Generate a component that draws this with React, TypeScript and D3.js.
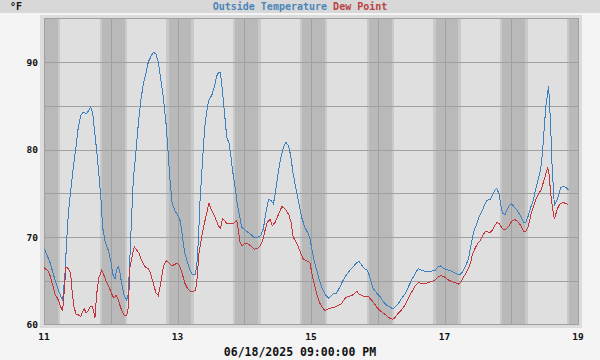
import React from "react";
import * as d3 from "d3";

// hours since 06/11 00:00, value °F
const tempPoints: [number, number][] = [
  [0,68.6],[0.36,68.5],[2.16,67.1],[3.95,65.1],[5.15,63.9],[6.35,63.0],[6.71,62.8],[7.55,65.8],[8.15,69.6],[8.75,72.7],[9.59,75.3],[10.55,78],[11.5,80.3],[12.3,82.5],[13.2,83.9],[14.1,84.3],[15.3,84.1],[15.9,84.4],[16.8,84.9],[17.5,84.2],[18.3,81.8],[19.2,79.1],[19.9,76.5],[20.5,74.2],[21.1,71.1],[21.9,69.6],[23.1,68.5],[24.0,67.3],[24.7,65.8],[25.5,65.2],[26.1,66.2],[26.7,66.6],[27.3,66.0],[27.9,64.7],[28.8,63.3],[29.7,62.8],[30.3,63.5],[30.9,67.7],[31.5,72.3],[32.1,76.5],[33.1,79.9],[33.9,82.9],[34.8,85.6],[35.7,87.5],[36.7,88.8],[37.5,90.0],[38.5,90.7],[39.3,91.1],[40.2,91.0],[41.1,90.0],[41.9,88.3],[42.9,86.0],[43.9,82.9],[44.5,80.3],[45.3,76.5],[46.1,73.8],[47.1,73.0],[48.06,72.5],[48.9,71.9],[49.5,70.8],[50.1,69.2],[50.7,68.1],[51.65,67.0],[52.5,66.2],[53.3,65.7],[54.3,65.7],[54.9,66.6],[55.5,69.6],[56.1,74.2],[56.7,77.2],[57.3,80.3],[57.9,82.9],[58.7,84.8],[59.4,85.8],[60.3,86.2],[61.2,87.1],[62.1,88.4],[62.7,88.8],[63.4,88.8],[63.9,87.5],[64.5,85.6],[65.1,83.5],[65.7,81.4],[66.5,80.8],[67.1,79.5],[67.8,77.6],[68.7,75.7],[69.5,73.8],[70.5,72.1],[71.1,71.1],[72.3,70.8],[73.5,70.5],[74.7,70.2],[75.6,69.9],[76.8,70.0],[78.0,70.2],[78.9,71.0],[79.7,72.7],[80.7,74.3],[81.6,74.2],[82.5,73.8],[83.3,75.3],[84.3,77.6],[85.2,79.1],[86.1,80.3],[87.0,80.8],[87.9,80.5],[88.7,79.3],[89.6,77.2],[90.5,75.7],[91.4,74.2],[92.6,72.3],[93.8,71.1],[95.0,70.4],[95.65,69.8],[96.25,68.7],[97.1,67.3],[98.05,66.2],[99.0,65.1],[99.8,64.3],[101.0,63.5],[102.2,63.0],[103.1,63.2],[104.0,63.5],[105.2,63.6],[106.4,64.3],[107.6,65.1],[108.8,65.7],[110.0,66.2],[111.2,66.6],[112.2,67.0],[113.3,67.2],[114.2,66.8],[115.2,66.4],[116.3,66.2],[117.0,65.6],[117.6,64.9],[118.4,64.1],[119.6,63.6],[120.8,63.2],[122.0,62.6],[123.2,62.2],[124.4,62.0],[125.4,61.8],[126.2,62.0],[127.4,62.4],[128.6,63.0],[129.8,63.5],[131.0,64.3],[132.2,65.1],[133.4,65.8],[134.6,66.4],[135.8,66.2],[137.0,66.1],[138.2,66.1],[139.4,66.1],[140.6,66.2],[141.8,66.6],[142.6,66.7],[143.6,66.4],[144.8,66.3],[145.7,66.2],[146.6,66.1],[147.8,65.9],[149.0,65.7],[150.0,65.8],[150.8,66.2],[151.6,66.7],[152.6,67.5],[153.4,68.9],[154.1,70.0],[154.7,70.8],[155.6,71.5],[156.4,72.3],[157.4,72.9],[158.3,73.6],[159.2,74.2],[160.4,74.3],[161.2,74.8],[162.2,75.4],[162.8,75.6],[163.6,74.9],[164.3,73.6],[164.9,72.7],[165.8,72.6],[166.5,73.1],[167.2,73.6],[168.2,73.8],[169.1,73.4],[170.0,73.1],[170.8,72.7],[171.8,72.1],[172.6,71.6],[173.3,71.7],[174.2,72.5],[175.0,73.4],[176.0,74.3],[176.8,75.5],[177.8,76.8],[178.6,77.8],[179.2,79.5],[179.8,82.2],[180.4,84.8],[181.0,86.3],[181.4,87.3],[181.7,85.8],[182.2,82.5],[182.7,78.0],[183.2,75.3],[183.5,73.6],[184.1,74.0],[184.7,74.4],[185.3,75.1],[185.9,75.7],[186.7,75.8],[187.6,75.7],[188.5,75.4]
];

const dewPoints: [number, number][] = [
  [0,66.5],[0.36,66.4],[1.56,66.1],[2.16,65.6],[3.12,64.5],[3.96,63.5],[5.15,62.8],[5.99,62.0],[6.71,61.6],[7.19,63.5],[7.91,66.6],[8.75,66.4],[9.59,65.8],[10.19,63.5],[10.79,62.0],[11.5,61.2],[12.35,61.1],[13.18,60.9],[13.78,61.4],[14.5,61.8],[15.1,61.3],[15.7,61.5],[16.54,62.0],[17.38,62.1],[17.98,61.3],[18.34,60.8],[18.94,63.5],[19.78,65.4],[20.73,66.2],[21.33,65.8],[22.17,65.1],[23.37,64.3],[24.33,63.5],[25.17,63.0],[25.89,63.3],[26.49,63.1],[27.09,62.4],[27.93,61.6],[28.76,61.1],[29.72,61.0],[30.32,62.0],[30.92,66.6],[31.88,68.1],[32.48,68.9],[33.32,68.5],[34.28,68.1],[35.11,67.3],[36.31,66.6],[37.5,66.4],[38.35,65.8],[39.31,64.7],[40.27,63.6],[41.11,63.3],[41.95,64.7],[42.9,66.6],[43.86,67.3],[44.7,67.1],[45.9,66.7],[47.1,66.9],[48.06,67.0],[48.9,66.6],[49.7,65.8],[50.7,64.7],[51.65,64.1],[52.5,63.8],[53.7,63.8],[54.5,63.9],[55.0,65.1],[55.7,68.1],[56.7,70.0],[57.6,71.5],[58.5,72.7],[59.3,73.9],[60.0,73.2],[60.9,72.7],[61.7,72.1],[62.7,71.3],[63.5,71.0],[64.2,72.1],[64.8,71.9],[65.7,71.6],[66.9,71.6],[68.1,71.5],[69.3,71.9],[69.9,70.8],[70.5,69.4],[71.1,69.0],[72.3,69.3],[73.5,69.2],[74.7,68.9],[75.6,68.6],[76.8,68.7],[77.8,69.0],[78.6,69.6],[79.5,70.8],[80.3,71.7],[81.3,72.0],[82.1,71.3],[83.1,71.7],[83.9,72.3],[84.9,73.0],[85.5,73.5],[86.4,73.3],[87.2,73.0],[88.1,72.5],[88.8,71.7],[89.6,70.0],[90.5,69.5],[91.4,68.9],[92.4,68.1],[93.2,67.5],[94.4,67.3],[95.4,67.1],[95.65,67.0],[96.6,65.4],[97.45,64.3],[98.3,63.2],[99.25,62.4],[100.2,61.9],[101.0,61.6],[102.2,61.8],[103.4,61.9],[104.6,62.0],[105.8,62.2],[107.0,62.4],[108.2,63.0],[109.4,63.2],[110.6,63.3],[111.6,63.5],[112.4,63.8],[113.3,63.5],[114.2,63.3],[115.4,63.2],[116.6,63.2],[117.8,62.8],[118.8,62.4],[119.6,62.0],[120.8,61.6],[122.0,61.3],[123.2,61.0],[124.4,60.7],[125.4,60.6],[126.2,60.8],[127.4,61.3],[128.6,61.7],[129.8,62.2],[131.0,63.0],[132.2,63.7],[133.4,64.4],[134.6,64.8],[135.8,64.7],[137.0,64.7],[138.2,64.8],[139.4,64.9],[140.6,65.1],[141.8,65.5],[142.8,65.6],[144.2,65.4],[145.4,65.1],[146.6,64.9],[147.8,64.8],[149.0,64.6],[150.0,64.9],[150.8,65.4],[151.6,65.8],[152.6,66.4],[153.4,67.1],[154.1,68.1],[155.0,68.7],[155.8,69.2],[156.8,69.6],[157.6,70.1],[158.6,70.6],[159.5,70.6],[160.4,70.5],[161.2,70.8],[162.2,71.4],[163.0,71.7],[163.7,71.5],[164.6,71.1],[165.4,70.8],[166.4,71.0],[167.2,71.3],[168.2,71.8],[169.1,72.0],[170.0,71.9],[170.8,71.6],[171.8,71.1],[172.5,70.6],[173.3,70.7],[174.2,71.3],[175.0,72.5],[176.0,73.5],[176.8,74.3],[177.8,74.9],[178.7,75.4],[179.6,76.3],[180.4,77.2],[181.1,77.9],[181.6,77.2],[182.2,74.9],[182.8,73.4],[183.5,72.1],[184.1,72.7],[184.7,73.3],[185.5,73.8],[186.4,73.9],[187.1,73.9],[187.9,73.8],[188.5,73.7]
];

const dayLabels = [11, 12, 13, 14, 15, 16, 17, 18, 19];
const xTickDays = [11, 13, 15, 17, 19];
const yTicks = [60, 70, 80, 90];
const yGrid = [65, 70, 75, 80, 85, 90];
// hours within each day (may exceed 24 into next day)
const duskStart = 20.0;
const nightStart = 20.8;
const nightEnd = 29.0;
const dawnEnd = 29.9;

const title1 = "Outside Temperature";
const title2 = "Dew Point";
const unitLabel = "°F";
const dateLabel = "06/18/2025 09:00:00 PM";

export default function App() {
  const W = 600, H = 360;
  const L = 44, R = 578, T = 18.5, B = 324.5;
  const x = d3.scaleLinear().domain([0, 192]).range([L, R]);
  const y = d3.scaleLinear().domain([60, 95]).range([B, T]);
  const line = d3.line<[number, number]>().x(d => x(d[0])).y(d => y(d[1]));
  const font = "'DejaVu Sans Mono', monospace";
  const bands: { x0: number; x1: number; fill: string }[] = [];
  for (let d = -1; d < 8; d++) {
    const b = d * 24;
    bands.push({ x0: b + duskStart, x1: b + nightStart, fill: "#c9c9c9" });
    bands.push({ x0: b + nightStart, x1: b + nightEnd, fill: "#b9b9b9" });
    bands.push({ x0: b + nightEnd, x1: b + dawnEnd, fill: "#c9c9c9" });
  }
  const cx = (h: number) => Math.max(L, Math.min(R, x(h)));
  return (
    <svg width={W} height={H} style={{ position: "fixed", left: 0, top: 0 }} fontFamily={font}>
      <rect x={0} y={0} width={W} height={H} fill="#f4f4f4" />
      <rect x={0} y={0} width={W} height={13} fill="#d8d8d8" />
      <text x={10} y={10} fontSize={10} fontWeight="bold" fill="#111">{unitLabel}</text>
      <text x={300} y={10} fontSize={10} fontWeight="bold" textAnchor="middle">
        <tspan fill="#4a86b8">{title1}</tspan>
        <tspan fill="#b84444"> {title2}</tspan>
      </text>
      <rect x={40} y={15} width={542} height={313} fill="#dcdcdc" />
      <defs>
        <clipPath id="plot"><rect x={L} y={T} width={R - L} height={B - T} /></clipPath>
      </defs>
      <rect x={L} y={T} width={R - L} height={B - T} fill="#dfdfdf" />
      <g clipPath="url(#plot)" shapeRendering="crispEdges">
        {bands.map((b, i) => (
          <rect key={i} x={cx(b.x0)} y={T} width={Math.max(0, cx(b.x1) - cx(b.x0))} height={B - T} fill={b.fill} />
        ))}
      </g>
      <g stroke="#a0a0a0" strokeWidth={1} shapeRendering="crispEdges">
        {yGrid.map(v => (
          <line key={v} x1={L} x2={R} y1={Math.round(y(v)) + 0.5} y2={Math.round(y(v)) + 0.5} />
        ))}
        {dayLabels.slice(1, -1).map(d => {
          const px = Math.round(x((d - 11) * 24)) + 0.5;
          return <line key={d} x1={px} x2={px} y1={T} y2={B} />;
        })}
        <rect x={L} y={T} width={R - L} height={B - T} fill="none" />
      </g>
      <g clipPath="url(#plot)" fill="none" strokeWidth={1} shapeRendering="crispEdges">
        <path d={line(tempPoints) || ""} stroke="#3b80c0" />
        <path d={line(dewPoints) || ""} stroke="#c0363c" />
      </g>
      {yTicks.map(v => (
        <text key={v} x={38} y={y(v) + 3.5} fontSize={9.5} fontWeight="bold" textAnchor="end" fill="#111">{v}</text>
      ))}
      {xTickDays.map(d => (
        <text key={d} x={x((d - 11) * 24)} y={339.5} fontSize={9.5} fontWeight="bold" textAnchor="middle" fill="#111">{d}</text>
      ))}
      <text x={300} y={356} fontSize={11.5} fontWeight="bold" textAnchor="middle" fill="#111">{dateLabel}</text>
    </svg>
  );
}
